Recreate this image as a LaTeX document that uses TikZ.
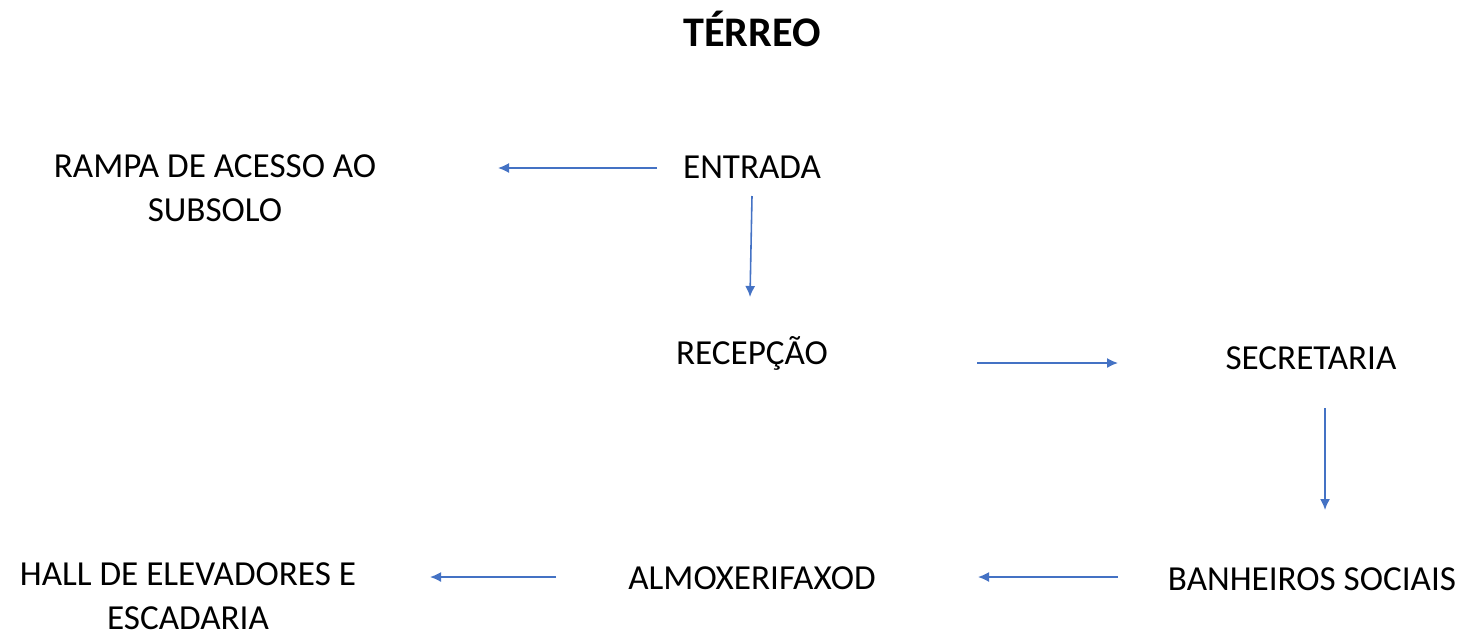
\documentclass[tikz,border=0pt]{standalone}
\usepackage{fontspec}
\setmainfont{Carlito}
\usetikzlibrary{arrows.meta,calc}
\tikzset{
  lbl/.style={inner sep=0pt, font=\fontsize{20}{25}\selectfont, align=center},
  ttl/.style={inner sep=0pt, font=\fontsize{24}{29}\selectfont\bfseries},
  arr/.style={draw={rgb,255:red,68;green,114;blue,196}, line width=0.9pt,
    -{Latex[length=0.22cm,width=0.2cm]}}
}
\begin{document}
\begin{tikzpicture}[x=0.02cm,y=-0.02cm]
\useasboundingbox (0,0) rectangle (1469,636);
\node[ttl, anchor=base] (title) at (752,46) {TÉRREO};
\node[lbl, anchor=base] (ent) at (752,178) {ENTRADA};
\node[lbl] (rampa) at (215,188) {RAMPA DE ACESSO AO\\SUBSOLO};
\node[lbl, anchor=base] (rec) at (752,364) {RECEPÇÃO};
\node[lbl, anchor=base] (sec) at (1311,369) {SECRETARIA};
\node[lbl, anchor=base] (ban) at (1312,590) {BANHEIROS SOCIAIS};
\node[lbl, anchor=base] (alm) at (752,589) {ALMOXERIFAXOD};
\node[lbl] (hall) at (188,596) {HALL DE ELEVADORES E\\ESCADARIA};

\draw[arr] ($(ent.base)+(-95,-10)$) -- ($(rampa.center)+(283,-20)$);
\draw[arr] ($(ent.base)+(0,18)$) -- ($(rec.base)+(-2,-67)$);
\draw[arr] ($(rec.base)+(225,-1)$) -- ($(sec.base)+(-193,-6)$);
\draw[arr] ($(sec.base)+(14,39)$) -- ($(ban.base)+(13,-80)$);
\draw[arr] ($(ban.base)+(-194,-13)$) -- ($(alm.base)+(226,-12)$);
\draw[arr] ($(alm.base)+(-196,-12)$) -- ($(hall.center)+(242,-19)$);
\end{tikzpicture}
\end{document}
